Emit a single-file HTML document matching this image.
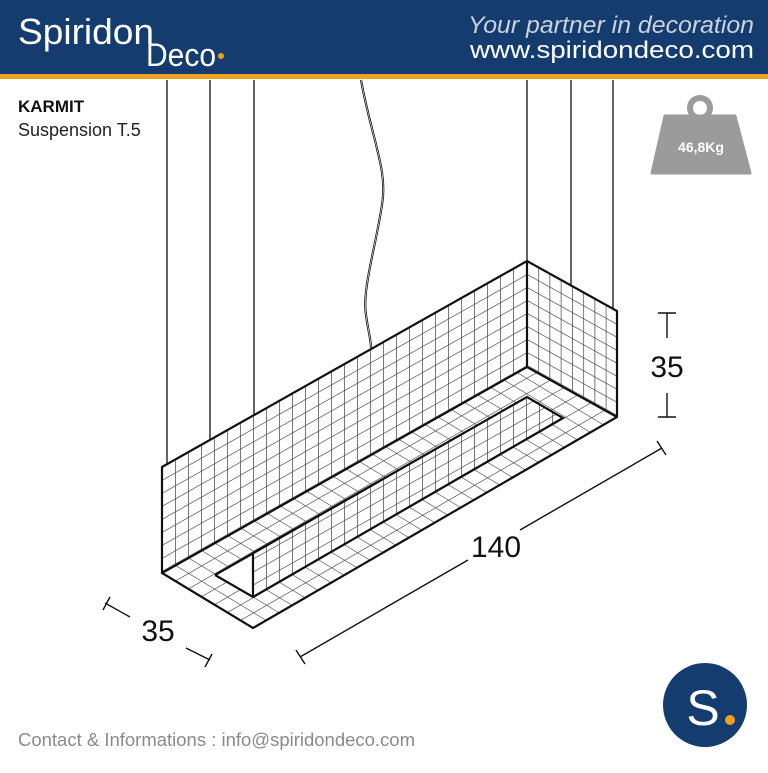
<!DOCTYPE html>
<html><head><meta charset="utf-8"><style>
body{margin:0;background:#fff}
</style></head><body>
<svg width="768" height="768" viewBox="0 0 768 768" xmlns="http://www.w3.org/2000/svg" font-family="Liberation Sans, sans-serif">
<defs>
<pattern id="pf" width="13" height="13" patternUnits="userSpaceOnUse" patternTransform="translate(162,467) skewY(-29.4)">
<path d="M0 0V13M0 0H13" stroke="#444" stroke-width="1.4" fill="none"/></pattern>
<pattern id="pr" width="11.25" height="13" patternUnits="userSpaceOnUse" patternTransform="translate(527,261) skewY(29)">
<path d="M0 0V13M0 0H11.25" stroke="#444" stroke-width="1.4" fill="none"/></pattern>
<pattern id="pb" width="13" height="13" patternUnits="userSpaceOnUse" patternTransform="translate(162,573) matrix(1,-0.577,1,0.606,0,0)">
<path d="M0 0V13M0 0H13" stroke="#444" stroke-width="1.2" fill="none"/></pattern>
</defs>
<rect width="768" height="74" fill="#143c6e"/>
<rect y="74" width="768" height="5" fill="#f0a020"/>
<text x="18" y="44" font-size="36" fill="#fff" textLength="136" lengthAdjust="spacingAndGlyphs">Spiridon</text>
<text x="146" y="66" font-size="32" fill="#fff" textLength="70" lengthAdjust="spacingAndGlyphs">Deco</text>
<circle cx="221" cy="56" r="3" fill="#f0a020"/>
<text x="754" y="33" font-size="24" fill="#c9d2de" font-style="italic" text-anchor="end" textLength="286" lengthAdjust="spacingAndGlyphs">Your partner in decoration</text>
<text x="754" y="58" font-size="24" fill="#fff" text-anchor="end" textLength="284" lengthAdjust="spacingAndGlyphs">www.spiridondeco.com</text>
<text x="18" y="112" font-size="17" font-weight="bold" fill="#111">KARMIT</text>
<text x="18" y="136" font-size="18" fill="#222">Suspension T.5</text>
<circle cx="700" cy="108" r="10" fill="none" stroke="#9b9b9b" stroke-width="6"/>
<path d="M665 116H735L750 173H652Z" fill="#9b9b9b" stroke="#9b9b9b" stroke-width="3" stroke-linejoin="round"/>
<text x="701" y="152" font-size="14" font-weight="bold" fill="#fff" text-anchor="middle">46,8Kg</text>
<g stroke="#111" stroke-width="1.3" fill="none">
<path d="M167 80V464M210 80V440M254 80V415M527 80V261M571 80V286M613 80V309"/>
<path d="M361 80C372 140 388 170 382 205C375 250 362 290 366 315C368 330 371 340 371 348" stroke-width="2.2"/>
<path d="M361 80C372 140 388 170 382 205C375 250 362 290 366 315C368 330 371 340 371 348" stroke="#fff" stroke-width="0.6"/>
</g>
<polygon points="162,467 527,261 527,367 162,573" fill="url(#pf)"/>
<polygon points="527,261 617,311 617,417 527,367" fill="url(#pr)"/>
<polygon points="162,573 527,367 617,417 253,628" fill="url(#pb)"/>
<polygon points="215,575 527,397 563,418 253,597" fill="#fff"/>
<polygon points="253,553 527,397 563,418 253,597" fill="url(#pf)"/>
<g stroke="#111" stroke-width="2.2" fill="none" stroke-linejoin="miter">
<path d="M162 467L527 261L617 311V417L253 628L162 573Z"/>
<path d="M527 261V367L162 573M527 367L617 417"/>
<path d="M215 575L527 397L563 418L253 597L215 575M253 597V553L527 397"/>
</g>
<g stroke="#111" stroke-width="1.4" fill="none">
<path d="M667 313V338M667 393V417M658 313H676M658 417H676"/>
<path d="M300 657L468 560M520 530L662 448M296 650L305 664M657 441L666 455"/>
<path d="M105 603L130 617M186 648L210 660M103 610L110 597M205 667L212 654"/>
</g>
<text x="667" y="377" font-size="30" fill="#111" text-anchor="middle">35</text>
<text x="496" y="557" font-size="30" fill="#111" text-anchor="middle">140</text>
<text x="158" y="641" font-size="30" fill="#111" text-anchor="middle">35</text>
<text x="18" y="746" font-size="18" fill="#8a8a8a" textLength="397" lengthAdjust="spacingAndGlyphs">Contact &amp; Informations : info@spiridondeco.com</text>
<circle cx="705" cy="705" r="42" fill="#143c6e"/>
<text x="703" y="725" font-size="50" fill="#fff" text-anchor="middle">S</text>
<circle cx="730" cy="720" r="5" fill="#f0a020"/>
</svg>
</body></html>
